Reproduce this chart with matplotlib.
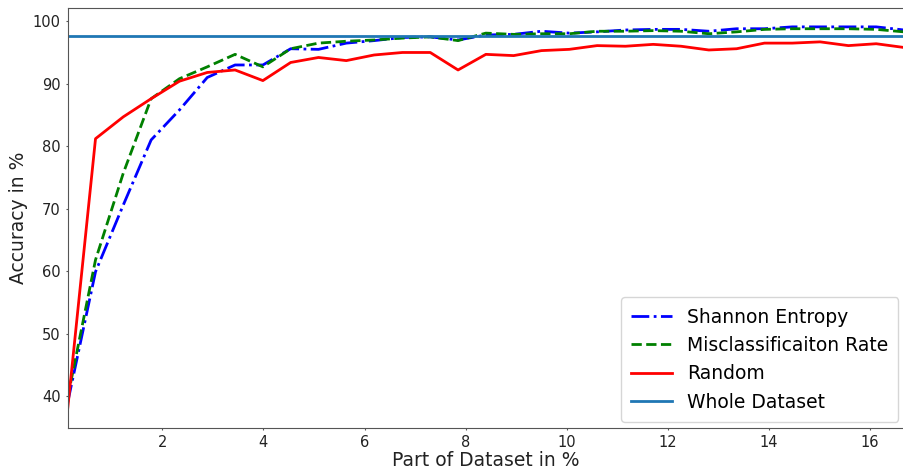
import matplotlib
matplotlib.use("Agg")
import matplotlib.pyplot as plt

x_vals = [0.13, 0.68, 1.23, 1.78, 2.34, 2.89, 3.44, 3.99, 4.54, 5.09, 5.64,
          6.19, 6.75, 7.30, 7.85, 8.40, 8.95, 9.50, 10.05, 10.60, 11.16,
          11.71, 12.26, 12.81, 13.36, 13.91, 14.46, 15.01, 15.57, 16.12, 16.67]

shannon = [39.0, 59.9, 70.6, 81.0, 85.8, 91.0, 93.0, 93.0, 95.6, 95.5, 96.5,
           96.9, 97.4, 97.5, 97.0, 97.8, 97.9, 98.4, 98.1, 98.3, 98.6,
           98.7, 98.7, 98.4, 98.8, 98.8, 99.1, 99.1, 99.1, 99.1, 98.6]

misclass = [39.8, 61.8, 75.7, 87.6, 90.8, 92.7, 94.7, 92.7, 95.6, 96.5, 96.8,
            97.0, 97.3, 97.5, 96.9, 98.1, 97.9, 98.0, 98.0, 98.4, 98.4,
            98.5, 98.4, 98.0, 98.3, 98.7, 98.8, 98.8, 98.8, 98.7, 98.3]

random_sel = [38.0, 81.2, 84.7, 87.6, 90.4, 91.8, 92.2, 90.5, 93.4, 94.2, 93.7,
              94.6, 95.0, 95.0, 92.2, 94.7, 94.5, 95.3, 95.5, 96.1, 96.0,
              96.3, 96.0, 95.4, 95.6, 96.5, 96.5, 96.7, 96.1, 96.4, 95.8]

whole_dataset = 97.7

x_ticks = [2, 4, 6, 8, 10, 12, 14, 16]
y_ticks = [40, 50, 60, 70, 80, 90, 100]

fig = plt.figure(figsize=(9.04, 4.69), dpi=100)
ax = fig.add_axes([0.0749, 0.088, 0.9251, 0.894])

ax.plot(x_vals, shannon, color="blue", linestyle="-.", linewidth=2, label="Shannon Entropy")
ax.plot(x_vals, misclass, color="green", linestyle="--", linewidth=2, label="Misclassificaiton Rate")
ax.plot(x_vals, random_sel, color="red", linestyle="-", linewidth=2, label="Random")
ax.axhline(whole_dataset, color="#1f77b4", linewidth=2, label="Whole Dataset")

ax.set_xlim(x_vals[0], x_vals[-1])
ax.set_ylim(34.93, 102.05)
ax.set_xticks(x_ticks)
ax.set_yticks(y_ticks)
ax.tick_params(labelsize=10.5, colors="#555555", labelcolor="#222222",
               length=1.6, pad=3.6)
for s in ax.spines.values():
    s.set_color("#555555")

ax.set_xlabel("Part of Dataset in %", fontsize=13.5, color="#222222", labelpad=1)
ax.set_ylabel("Accuracy in %", fontsize=13.5, color="#222222", labelpad=3)

ax.legend(loc="lower right", fontsize=13.5, borderpad=0.55, handlelength=2.15,
          bbox_to_anchor=(1.0, 0.0), borderaxespad=0.3)

fig.savefig("out.png", dpi=100)
